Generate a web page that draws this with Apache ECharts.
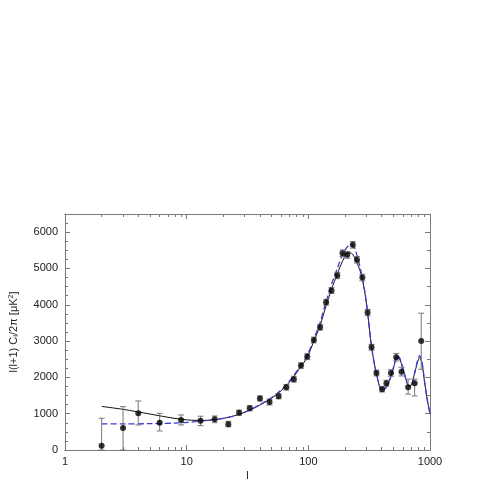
<!DOCTYPE html>
<html>
<head>
<meta charset="utf-8">
<script src="https://cdn.jsdelivr.net/npm/echarts@6/dist/echarts.min.js"></script>
<style>
html,body{margin:0;padding:0;background:#fff;}
#chart{width:491px;height:491px;}
</style>
</head>
<body>
<div id="chart"></div>
<script>
// ---- data ----
var dataL    = [2,3,4,6,9,13,17,22,27,33,40,48,57,66,76,87,98,111,125,140,155,173,191,209,232,251,278,307,331,363,404,438,478,528,583,661,748,847];
var dataVal  = [118,606,1011,753,827,805,850,712,1028,1149,1420,1320,1480,1725,1949,2324,2572,3032,3382,4071,4391,4804,5421,5375,5650,5237,4749,3784,2831,2122,1673,1838,2122,2555,2158,1728,1838,3004];
var errLow   = [0,0,690,524,690,670,752,640,960,1080,1350,1240,1410,1650,1870,2250,2490,2950,3300,3990,4310,4720,5330,5280,5560,5150,4660,3700,2750,2040,1600,1760,2030,2450,2040,1540,1490,2224];
var errHigh  = [874,1194,1350,1010,965,930,937,790,1100,1220,1490,1400,1550,1800,2030,2400,2650,3110,3460,4150,4470,4890,5510,5470,5740,5330,4840,3870,2910,2200,1750,1920,2210,2660,2280,1950,1950,3768];

var blackL   = [2,3,5,8,11,14,20,28,40,55,70,85,98,111,125,140,155,173,191,211,226,240,251,265,278,292,307,331,363,400,430,470,510,532,560,600,640,670,700,740,790,822,860,900,950,1000];
var blackVal = [1200,1120,990,870,820,815,870,1000,1240,1530,1870,2250,2560,3000,3430,3980,4420,4850,5200,5430,5420,5300,5150,4960,4700,4310,3790,2840,2100,1680,1700,1960,2360,2560,2520,2230,1900,1770,1780,2050,2420,2540,2380,1900,1380,1000];
var blueL    = [2,3,5,8,11,14,20,28,40,55,70,85,98,111,125,140,155,173,191,210,225,240,251,265,278,292,307,331,363,400,430,470,510,532,560,600,640,670,700,740,790,822,860,900,950,1000];
var blueVal  = [720,720,725,740,770,810,870,1000,1250,1550,1900,2290,2610,3060,3510,4090,4560,5000,5380,5600,5660,5570,5360,5060,4740,4340,3800,2830,2100,1670,1700,1960,2370,2580,2550,2250,1900,1770,1780,2060,2460,2600,2420,1920,1380,1000];

var yTicks = [0,1000,2000,3000,4000,5000,6000];
var xMajor = [1,10,100,1000];
var xMinor = [2,3,4,5,6,7,8,9,20,30,40,50,60,70,80,90,200,300,400,500,600,700,800,900];

// ---- build ----
function pairs(a,b){ return a.map(function(v,i){ return [v,b[i]]; }); }
var pts = pairs(dataL,dataVal);
var errData = dataL.map(function(l,i){ return [l,errLow[i],errHigh[i]]; });

var FONT = 'Liberation Sans';
var frame = '#7a7a7a';
function plain(v){ return String(Math.round(v)); }

function xAx(pos, ticks, len, labels){
  return {
    type:'log', logBase:10, min:1, max:1000, position:pos,
    axisLine:{show:true, onZero:false, lineStyle:{color:frame,width:1}},
    axisTick:{show:true, inside:true, length:len, customValues:ticks, lineStyle:{color:frame}},
    axisLabel:{show:labels, customValues: labels? xMajor: undefined, formatter:plain, color:'#222', fontFamily:FONT, fontSize:11, margin:6},
    splitLine:{show:false}, minorTick:{show:false}
  };
}

var chart = echarts.init(document.getElementById('chart'), null, {renderer:'canvas'});
var option = {
  backgroundColor:'#fff',
  animation:false,
  grid:{left:60, right:61, top:214, bottom:41, containLabel:false},
  xAxis:[
    Object.assign(xAx('bottom', xMajor, 5, true), {name:'l', nameLocation:'middle', nameGap:20, nameTextStyle:{color:'#222', fontFamily:FONT, fontSize:11}}),
    xAx('bottom', xMinor, 3, false),
    xAx('top', xMajor, 5, false),
    xAx('top', xMinor, 3, false)
  ],
  yAxis:[
    {type:'value', min:0, max:6500, interval:1000, position:'left',
     name:'l(l+1) C{sub|l}/2π [μK{sup|2}]', nameLocation:'middle', nameGap:45, nameRotate:90,
     nameTextStyle:{color:'#222', fontFamily:FONT, fontSize:11,
       rich:{sub:{fontSize:8, fontFamily:FONT, color:'#222', verticalAlign:'bottom', padding:[4,0,0,0]}, sup:{fontSize:7, fontFamily:FONT, color:'#222', verticalAlign:'top'}}},
     axisLine:{show:true, lineStyle:{color:frame}},
     axisTick:{show:true, inside:true, length:5, lineStyle:{color:frame}},
     minorTick:{show:true, splitNumber:4, length:3, lineStyle:{color:frame}},
     axisLabel:{color:'#222', fontFamily:FONT, fontSize:11, margin:7, showMaxLabel:false, formatter:plain},
     splitLine:{show:false}},
    {type:'value', min:0, max:6500, interval:1000, position:'right',
     axisLine:{show:true, lineStyle:{color:frame}},
     axisTick:{show:true, inside:true, length:5, lineStyle:{color:frame}},
     minorTick:{show:true, splitNumber:2, length:3, lineStyle:{color:frame}},
     axisLabel:{show:false}, splitLine:{show:false}}
  ],
  series:[
    {type:'line', name:'model1', data:pairs(blackL,blackVal), smooth:0.3, showSymbol:false,
     lineStyle:{color:'#111', width:1}, z:2},
    {type:'line', name:'model2', data:pairs(blueL,blueVal), smooth:0.3, showSymbol:false,
     lineStyle:{color:'#3b3bdc', width:1.3, type:[6,3]}, z:3},
    {type:'custom', name:'err', data:errData, z:4,
     renderItem:function(params, api){
       var x = api.value(0);
       var lo = api.coord([x, api.value(1)]);
       var hi = api.coord([x, api.value(2)]);
       var c = 3;
       var st = {stroke:'#777', lineWidth:1, fill:null};
       return {type:'group', children:[
         {type:'line', shape:{x1:lo[0],y1:lo[1],x2:hi[0],y2:hi[1]}, style:st},
         {type:'line', shape:{x1:lo[0]-c,y1:lo[1],x2:lo[0]+c,y2:lo[1]}, style:st},
         {type:'line', shape:{x1:hi[0]-c,y1:hi[1],x2:hi[0]+c,y2:hi[1]}, style:st}
       ]};
     },
     encode:{x:0, y:[1,2]}},
    {type:'scatter', name:'data', data:pts, symbol:'circle', symbolSize:6,
     itemStyle:{color:'#000'}, z:5}
  ]
};
chart.setOption(option);
</script>
</body>
</html>
